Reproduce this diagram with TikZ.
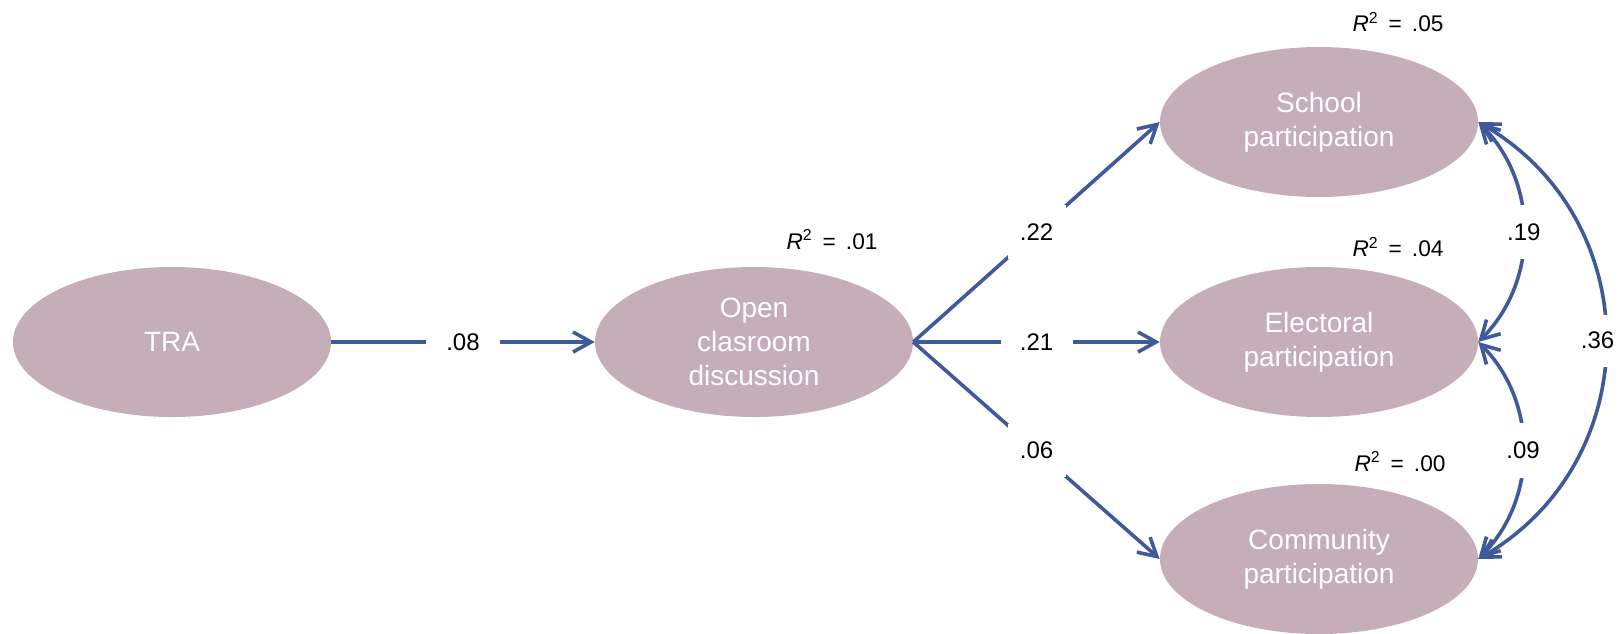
\documentclass[tikz,border=0pt]{standalone}
\usepackage{fontspec}
\setmainfont{Liberation Sans}
\usetikzlibrary{shapes.geometric,arrows.meta}
\definecolor{ellfill}{RGB}{197,173,186}
\definecolor{arrblue}{RGB}{63,90,155}
\begin{document}
\begin{tikzpicture}[x=0.75pt,y=-0.75pt,
  ell/.style={ellipse, fill=ellfill, minimum width=238.5pt, minimum height=112.5pt,
    inner sep=0pt, text=white, align=center, font=\fontsize{21}{25.5}\selectfont},
  lbl/.style={fill=white, inner sep=0pt, text=black, font=\fontsize{18}{20}\selectfont},
  rsq/.style={anchor=base, text=black, font=\fontsize{17}{20}\selectfont},
  barb/.tip={Straight Barb[length=13.5pt,width=15pt]},
  conn/.style={draw=arrblue, line width=2.7pt, -barb},
  both/.style={draw=arrblue, line width=2.7pt, barb-barb}]
\useasboundingbox (0,0) rectangle (1618,633);
% nodes
\node[ell] (tra) at (172,342) {TRA};
\node[ell] (open) at (754,342) {Open\\clasroom\\discussion};
\node[ell] (school) at (1319,122) {School\\participation};
\node[ell] (elect) at (1319,342) {Electoral\\participation};
\node[ell] (comm) at (1319,559) {Community\\participation};
% R squared labels
\node[rsq] (r1) at (832,249) {\textit{R}\textsuperscript{2}\hspace{0.45em}=\hspace{0.45em}.01};
\node[rsq] (r2) at (1398,31.7) {\textit{R}\textsuperscript{2}\hspace{0.45em}=\hspace{0.45em}.05};
\node[rsq] (r3) at (1398,256.7) {\textit{R}\textsuperscript{2}\hspace{0.45em}=\hspace{0.45em}.04};
\node[rsq] (r4) at (1400,471) {\textit{R}\textsuperscript{2}\hspace{0.45em}=\hspace{0.45em}.00};
% paths
\draw[conn] (tra.east) -- node[lbl, minimum width=55pt, minimum height=15pt] (l08) {.08} (open.west);
\draw[conn] (open.east) -- node[lbl, minimum width=43.5pt, minimum height=40pt] (l22) {.22} (school.west);
\draw[conn] (open.east) -- node[lbl, minimum width=54pt, minimum height=15pt] (l21) {.21} (elect.west);
\draw[conn] (open.east) -- node[lbl, minimum width=43.5pt, minimum height=40pt] (l06) {.06} (comm.west);
\draw[both] (elect.east) to[out=45,in=-45] node[lbl, minimum width=28pt, minimum height=41pt] (l19) {.19} (school.east);
\draw[both] (elect.east) to[out=-45,in=45] node[lbl, minimum width=28pt, minimum height=41pt] (l09) {.09} (comm.east);
\draw[both] (school.east) to[out=-30,in=30,looseness=1.15] node[lbl, minimum width=28pt, minimum height=39pt, xshift=-6pt] (l36) {.36} (comm.east);
\end{tikzpicture}
\end{document}
